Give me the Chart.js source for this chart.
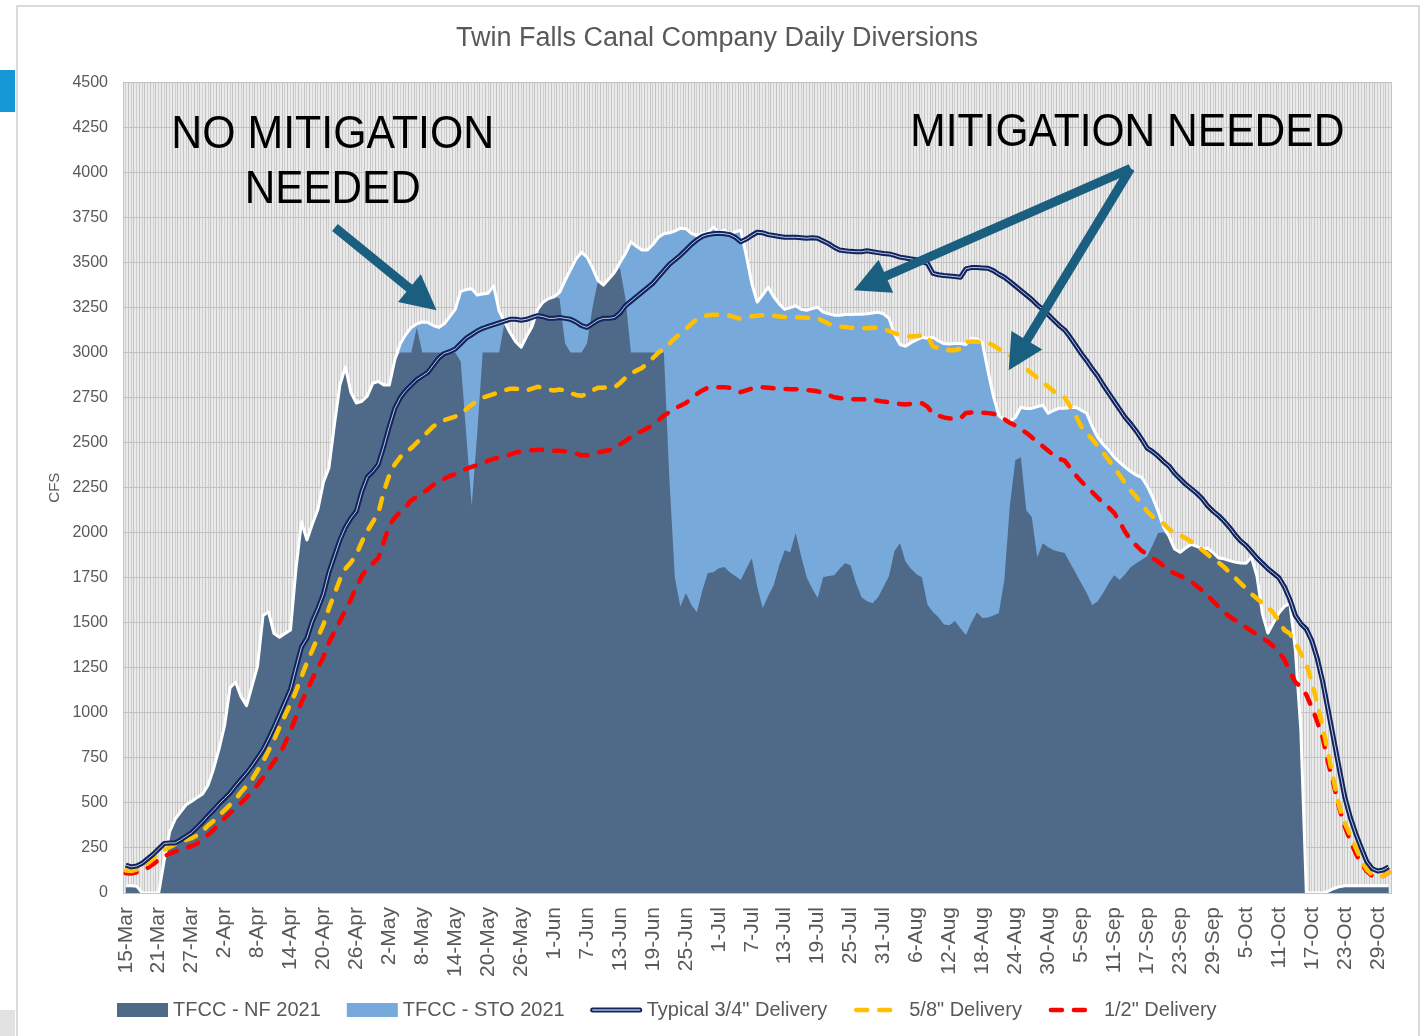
<!DOCTYPE html>
<html>
<head>
<meta charset="utf-8">
<script src="https://cdn.jsdelivr.net/npm/chart.js@4.4.1/dist/chart.umd.min.js"></script>
<style>
  html, body { margin: 0; padding: 0; background: #ffffff; }
  body { width: 1428px; height: 1036px; position: relative; overflow: hidden; }
  #frame { position: absolute; left: 16px; top: 5px; width: 1400px; height: 1040px; border: 2px solid #dadada; box-sizing: content-box; }
  #tab { position: absolute; left: 0; top: 70px; width: 15px; height: 42px; background: #1598d5; }
  #corner { position: absolute; left: 0; top: 1010px; width: 15px; height: 26px; background: #e2e2e2; }
  #c { position: absolute; left: 0; top: 0; }
</style>
</head>
<body>
<div id="frame"></div>
<div id="tab"></div>
<div id="corner"></div>
<canvas id="c" width="1428" height="1036"></canvas>
<script>
// ---------------- DATA ----------------
const chartTitle = 'Twin Falls Canal Company Daily Diversions';
const yAxisTitle = 'CFS';
const seriesNames = ['TFCC - NF 2021', 'TFCC - STO 2021', 'Typical 3/4" Delivery', '5/8" Delivery', '1/2" Delivery'];

// daily categories, 15-Mar .. 31-Oct
const monthSpans = [['Mar', 15, 31], ['Apr', 1, 30], ['May', 1, 31], ['Jun', 1, 30], ['Jul', 1, 31], ['Aug', 1, 31], ['Sep', 1, 30], ['Oct', 1, 31]];
const categories = [];
monthSpans.forEach(([m, a, b]) => { for (let d = a; d <= b; d++) categories.push(d + '-' + m); });
const tickEvery = 6; // a label is shown on every 6th day

// TFCC - NF 2021 (natural flow, dark area)
const nfFlow = [
  40, 40, 38, 0, 0, 0, 0, 180, 340, 410,
  450, 490, 510, 530, 550, 600, 690, 800, 930, 1140,
  1170, 1090, 1040, 1150, 1260, 1540, 1560, 1440, 1420, 1440,
  1460, 1800, 2060, 1960, 2050, 2130, 2280, 2360, 2600, 2820,
  2920, 2780, 2720, 2730, 2760, 2830, 2840, 2820, 2820, 2960,
  3000, 3000, 3000, 3140, 3000, 3000, 3000, 3000, 3000, 3000,
  3000, 2950, 2550, 2150, 2550, 3000, 3000, 3000, 3000, 3170,
  3110, 3060, 3030, 3090, 3145, 3240, 3280, 3300, 3310, 3300,
  3050, 3000, 3000, 3000, 3050, 3250, 3400, 3375, 3410, 3445,
  3470, 3300, 3000, 3000, 3000, 3000, 3000, 3000, 3000, 2300,
  1750, 1590, 1665, 1600, 1559, 1680, 1776, 1780, 1803, 1810,
  1780, 1760, 1737, 1800, 1859, 1700, 1581, 1650, 1709, 1820,
  1903, 1892, 1998, 1870, 1753, 1690, 1637, 1753, 1760, 1764,
  1800, 1831, 1820, 1720, 1642, 1620, 1609, 1642, 1700, 1760,
  1900, 1942, 1840, 1800, 1770, 1753, 1600, 1560, 1531, 1490,
  1487, 1510, 1470, 1432, 1500, 1559, 1526, 1530, 1540, 1554,
  1737, 2150, 2403, 2419, 2125, 2086, 1864, 1942, 1920, 1903,
  1895, 1887, 1830, 1776, 1720, 1665, 1598, 1620, 1665, 1720,
  1764, 1737, 1770, 1809, 1830, 1850, 1870, 1930, 1998, 2003,
  1980, 1910, 1892, 1915, 1935, 1925, 1910, 1914, 1890, 1860,
  1855, 1845, 1837, 1832, 1831, 1864, 1760, 1550, 1443, 1500,
  1554, 1590, 1609, 1350, 900, 0, 0, 0, 0, 10,
  25, 35, 40, 40, 40, 40, 40, 40, 40, 40,
  40
];

// TFCC - STO 2021 (total with storage, light area with white outline)
const stoTotal = [
  40, 40, 38, 0, 0, 0, 0, 180, 340, 410,
  450, 490, 510, 530, 550, 600, 690, 800, 930, 1140,
  1170, 1090, 1040, 1150, 1260, 1540, 1560, 1440, 1420, 1440,
  1460, 1800, 2060, 1960, 2050, 2130, 2280, 2360, 2600, 2820,
  2920, 2780, 2720, 2730, 2760, 2830, 2840, 2820, 2820, 2960,
  3050, 3100, 3140, 3160, 3170, 3168, 3150, 3140, 3160, 3200,
  3240, 3340, 3350, 3355, 3320, 3325, 3330, 3370, 3230, 3170,
  3110, 3060, 3030, 3090, 3145, 3240, 3280, 3300, 3310, 3335,
  3400, 3460, 3520, 3557, 3530, 3470, 3400, 3375, 3410, 3445,
  3500, 3550, 3615, 3590, 3570, 3570, 3600, 3640, 3660, 3665,
  3675, 3690, 3688, 3662, 3650, 3660, 3665, 3696, 3670, 3680,
  3657, 3670, 3679, 3540, 3385, 3280, 3320, 3363, 3310, 3270,
  3240, 3250, 3260, 3240, 3235, 3245, 3252, 3225, 3215, 3208,
  3207, 3212, 3212, 3213, 3213, 3215, 3220, 3224, 3215, 3190,
  3100, 3045, 3035, 3055, 3070, 3085, 3080, 3085, 3065, 3050,
  3048, 3052, 3050, 3045, 3080, 3075, 3055, 2900, 2760, 2650,
  2625, 2615, 2641, 2697, 2690, 2690, 2700, 2708, 2663, 2680,
  2691, 2691, 2695, 2697, 2680, 2663, 2590, 2530, 2490, 2458,
  2420, 2390, 2364, 2340, 2320, 2308, 2260, 2197, 2120, 2031,
  1980, 1910, 1892, 1915, 1935, 1925, 1910, 1914, 1890, 1860,
  1855, 1845, 1837, 1832, 1831, 1864, 1760, 1550, 1443, 1500,
  1554, 1590, 1609, 1350, 900, 0, 0, 0, 0, 10,
  25, 35, 40, 40, 40, 40, 40, 40, 40, 40,
  40
];

// Typical 3/4" Delivery
const typicalDelivery = [
  155, 145, 150, 165, 190, 215, 245, 275, 278, 278,
  295, 315, 335, 365, 395, 430, 460, 495, 525, 555,
  595, 630, 665, 705, 750, 795, 855, 920, 990, 1060,
  1130, 1250, 1365, 1415, 1510, 1580, 1660, 1780, 1870, 1960,
  2030, 2080, 2120, 2230, 2310, 2340, 2380, 2480, 2590, 2690,
  2750, 2790, 2820, 2850, 2870, 2890, 2930, 2970, 2995, 3005,
  3020, 3050, 3080, 3100, 3120, 3135, 3145, 3155, 3165, 3175,
  3185, 3185, 3180, 3185, 3195, 3205, 3200, 3190, 3190, 3195,
  3190, 3185, 3170, 3150, 3140, 3160, 3180, 3190, 3190, 3195,
  3220, 3260, 3285, 3310, 3335, 3360, 3385, 3420, 3455, 3490,
  3515, 3540, 3570, 3600, 3625, 3645, 3655, 3660, 3662, 3660,
  3655, 3640, 3615, 3630, 3650, 3668, 3665, 3655, 3650, 3645,
  3640, 3640, 3640, 3638, 3635, 3638, 3635, 3620, 3605, 3585,
  3570, 3565, 3562, 3560, 3560, 3565, 3560, 3555, 3550, 3548,
  3540, 3530, 3525, 3520, 3515, 3505, 3495, 3440, 3432, 3428,
  3425, 3422, 3418, 3465, 3472, 3472, 3470, 3468, 3455, 3435,
  3418, 3395, 3370, 3345, 3320, 3295, 3265, 3240, 3210, 3180,
  3150, 3125, 3085, 3040, 2995, 2955, 2910, 2870, 2820, 2775,
  2730, 2685, 2640, 2605, 2565, 2520, 2470, 2450, 2425, 2395,
  2370, 2330, 2300, 2270, 2245, 2220, 2190, 2150, 2120, 2095,
  2065, 2030, 1990, 1955, 1930, 1895, 1860, 1830, 1800, 1775,
  1750, 1700, 1630, 1540, 1495, 1465, 1400, 1300, 1170, 1010,
  850, 690, 533, 420, 330, 250, 175, 135, 122, 128,
  145
];

// 5/8" Delivery
const fiveEighthsDelivery = [
  125, 122, 130, 145, 165, 190, 220, 240, 255, 270,
  280, 295, 305, 320, 345, 375, 400, 430, 460, 490,
  520, 560, 595, 630, 680, 730, 790, 850, 920, 985,
  1050, 1120, 1200, 1280, 1350, 1420, 1490, 1580, 1660, 1740,
  1800, 1835, 1880, 1950, 2010, 2060, 2110, 2230, 2320, 2380,
  2420, 2445, 2470, 2500, 2530, 2560, 2590, 2610, 2625, 2635,
  2645, 2660, 2685, 2710, 2730, 2750, 2760, 2770, 2780, 2790,
  2800, 2800, 2795, 2790, 2800, 2810, 2805, 2795, 2790, 2795,
  2790, 2775, 2765, 2760, 2770, 2790, 2805, 2805, 2808, 2808,
  2830, 2860, 2885, 2900, 2915, 2940, 2970, 3000, 3020, 3050,
  3080, 3105, 3130, 3160, 3185, 3200, 3207, 3210, 3210, 3210,
  3205, 3195, 3188, 3195, 3202, 3205, 3207, 3207, 3205, 3200,
  3198, 3196, 3196, 3195, 3193, 3192, 3190, 3175, 3160, 3150,
  3145, 3142, 3138, 3136, 3135, 3135, 3138, 3138, 3130, 3120,
  3108, 3098, 3092, 3090, 3092, 3095, 3092, 3035, 3025, 3018,
  3013, 3013, 3022, 3060, 3062, 3060, 3058, 3055, 3040, 3020,
  3000, 2985, 2965, 2940, 2910, 2885, 2860, 2835, 2810, 2785,
  2765, 2750, 2700, 2650, 2590, 2550, 2520, 2480, 2445, 2405,
  2360, 2320, 2275, 2235, 2200, 2160, 2120, 2090, 2070, 2050,
  2020, 2000, 1985, 1970, 1950, 1930, 1905, 1880, 1855, 1835,
  1810, 1780, 1750, 1720, 1690, 1660, 1635, 1610, 1585, 1555,
  1510, 1460, 1440, 1390, 1330, 1270, 1170, 1050, 920, 770,
  620, 480, 390, 320, 250, 180, 130, 100, 90, 95,
  115
];

// 1/2" Delivery
const halfDelivery = [
  110, 108, 115, 125, 140, 160, 185, 205, 218, 230,
  242, 250, 260, 275, 300, 325, 350, 385, 415, 445,
  470, 500, 530, 565, 600, 640, 685, 730, 770, 830,
  900, 980, 1060, 1120, 1190, 1250, 1310, 1390, 1450, 1510,
  1570, 1630, 1700, 1760, 1800, 1830, 1860, 1950, 2040, 2085,
  2115, 2145, 2180, 2200, 2220, 2240, 2265, 2285, 2300, 2315,
  2325, 2340, 2355, 2365, 2375, 2385, 2400, 2410, 2418, 2425,
  2435, 2445, 2450, 2455, 2458, 2460, 2460, 2458, 2455, 2455,
  2453, 2450, 2440, 2430, 2430, 2435, 2445, 2452, 2458, 2470,
  2490, 2510, 2530, 2550, 2565, 2580, 2600, 2625, 2650, 2670,
  2690, 2705, 2720, 2745, 2770, 2790, 2805, 2808, 2808, 2808,
  2805, 2790, 2780, 2790, 2800, 2805, 2808, 2805, 2802, 2800,
  2798, 2797, 2797, 2795, 2792, 2790, 2785, 2775, 2765, 2752,
  2748, 2745, 2742, 2741, 2741, 2740, 2738, 2733, 2728, 2725,
  2720, 2715, 2712, 2715, 2718, 2719, 2700, 2660, 2650, 2640,
  2635, 2632, 2635, 2665, 2668, 2669, 2667, 2664, 2660, 2650,
  2630, 2610, 2595, 2575, 2555, 2530, 2500, 2480, 2455, 2430,
  2410, 2400, 2360, 2320, 2285, 2255, 2225, 2195, 2165, 2140,
  2110, 2060, 2005, 1960, 1930, 1900, 1880, 1860, 1840, 1815,
  1790, 1775, 1760, 1748, 1730, 1705, 1680, 1650, 1620, 1590,
  1560, 1535, 1515, 1495, 1475, 1455, 1435, 1415, 1395, 1370,
  1335, 1295, 1230, 1170, 1145, 1100, 1030, 950, 860, 720,
  600, 470, 370, 290, 220, 165, 120, 95, 88, 95,
  115
];

// y-axis range
const yMin = 0, yMax = 4500, yStep = 250;

// annotation texts (anchored in data coordinates: category index, value)
const noteTexts = [
  { text: 'NO MITIGATION', x: 37.7, y: 4134, w: 323 },
  { text: 'NEEDED', x: 37.7, y: 3830, w: 176 },
  { text: 'MITIGATION NEEDED', x: 182.4, y: 4145, w: 434 }
];
const noteArrows = [
  { from: [38.1, 3695], to: [56.6, 3235] },
  { from: [183.0, 4023], to: [132.6, 3346] },
  { from: [183.0, 4023], to: [160.8, 2902] }
];

// ---------------- STYLE ----------------
const FONT = "'Liberation Sans', Arial, Helvetica, sans-serif";
const TEXT_GREY = '#595959';
const C_NF = '#4f6a89';
const C_STO = '#78a9db';
const C_NAVY = '#0f2460';
const C_YEL = '#FFC000';
const C_RED = '#FF0000';
const C_ARROW = '#1a5e80';
const DASH = [11, 12];

const plotBg = {
  id: 'plotBg',
  beforeDraw(chart) {
    const { ctx, chartArea: a } = chart;
    ctx.save();
    ctx.fillStyle = '#eaeaea';
    ctx.fillRect(a.left, a.top, a.right - a.left, a.bottom - a.top);
    ctx.restore();
  }
};

function drawArrow(ctx, x1, y1, x2, y2) {
  const ang = Math.atan2(y2 - y1, x2 - x1);
  const headLen = 35, headHalf = 18, shaft = 9;
  const bx = x2 - headLen * Math.cos(ang), by = y2 - headLen * Math.sin(ang);
  ctx.save();
  ctx.strokeStyle = C_ARROW;
  ctx.fillStyle = C_ARROW;
  ctx.lineWidth = shaft;
  ctx.lineCap = 'butt';
  ctx.beginPath();
  ctx.moveTo(x1, y1);
  ctx.lineTo(bx + 2 * Math.cos(ang), by + 2 * Math.sin(ang));
  ctx.stroke();
  ctx.beginPath();
  ctx.moveTo(x2, y2);
  ctx.lineTo(bx + headHalf * Math.sin(ang), by - headHalf * Math.cos(ang));
  ctx.lineTo(bx - headHalf * Math.sin(ang), by + headHalf * Math.cos(ang));
  ctx.closePath();
  ctx.fill();
  ctx.restore();
}

const notes = {
  id: 'notes',
  afterDatasetsDraw(chart) {
    const { ctx } = chart;
    const xs = chart.scales.x, ys = chart.scales.y;
    noteArrows.forEach(a => {
      drawArrow(ctx, xs.getPixelForValue(a.from[0]), ys.getPixelForValue(a.from[1]),
                xs.getPixelForValue(a.to[0]), ys.getPixelForValue(a.to[1]));
    });
    ctx.save();
    ctx.fillStyle = '#000000';
    ctx.font = '46px ' + FONT;
    ctx.textAlign = 'center';
    ctx.textBaseline = 'alphabetic';
    noteTexts.forEach(n => {
      const w = ctx.measureText(n.text).width;
      const sx = n.w / w;
      ctx.save();
      ctx.translate(xs.getPixelForValue(n.x), ys.getPixelForValue(n.y));
      ctx.scale(sx, 1);
      ctx.fillText(n.text, 0, 0);
      ctx.restore();
    });
    ctx.restore();
  }
};

// legend entries: dataset index + symbol kind
const legendEntries = [
  { ds: 0, kind: 'box' },
  { ds: 1, kind: 'box' },
  { ds: 3, kind: 'double' },
  { ds: 5, kind: 'dash' },
  { ds: 6, kind: 'dash' }
];
const customLegend = {
  id: 'customLegend',
  afterDraw(chart) {
    const { ctx } = chart;
    const dsets = chart.data.datasets;
    ctx.save();
    ctx.font = '20px ' + FONT;
    ctx.textBaseline = 'middle';
    ctx.textAlign = 'left';
    let x = chart.chartArea.left - 6;
    const yc = chart.height - 26;
    const symW = 51, gap = 5, spacing = 26;
    legendEntries.forEach(e => {
      const d = dsets[e.ds];
      if (e.kind === 'box') {
        ctx.fillStyle = d.backgroundColor;
        ctx.fillRect(x, yc - 7, symW, 14);
      } else if (e.kind === 'double') {
        ctx.lineCap = 'round';
        ctx.strokeStyle = d.borderColor; ctx.lineWidth = 5;
        ctx.beginPath(); ctx.moveTo(x + 2, yc); ctx.lineTo(x + symW - 2, yc); ctx.stroke();
        ctx.strokeStyle = '#ffffff'; ctx.lineWidth = 1.2;
        ctx.beginPath(); ctx.moveTo(x + 2, yc); ctx.lineTo(x + symW - 2, yc); ctx.stroke();
      } else {
        ctx.lineCap = 'round';
        ctx.setLineDash(d.borderDash);
        ctx.strokeStyle = d.borderColor; ctx.lineWidth = d.borderWidth;
        ctx.beginPath(); ctx.moveTo(x + 3, yc); ctx.lineTo(x + symW - 3, yc); ctx.stroke();
        ctx.setLineDash([]);
      }
      ctx.fillStyle = TEXT_GREY;
      ctx.fillText(d.label, x + symW + gap, yc);
      x += symW + gap + ctx.measureText(d.label).width + spacing;
    });
    ctx.restore();
  }
};

const lineBase = { pointRadius: 0, pointHoverRadius: 0, tension: 0, borderJoinStyle: 'round' };

new Chart(document.getElementById('c'), {
  type: 'line',
  data: {
    labels: categories,
    datasets: [
      Object.assign({}, lineBase, { label: seriesNames[0], data: nfFlow, order: 5, fill: 'origin',
        backgroundColor: C_NF, borderColor: 'rgba(0,0,0,0)', borderWidth: 0.01 }),
      Object.assign({}, lineBase, { label: seriesNames[1], data: stoTotal, order: 6, fill: 'origin',
        backgroundColor: C_STO, borderColor: 'rgba(0,0,0,0)', borderWidth: 0.01 }),
      Object.assign({}, lineBase, { label: seriesNames[1] + ' outline', data: stoTotal, order: 4, fill: false,
        borderColor: '#ffffff', borderWidth: 3 }),
      Object.assign({}, lineBase, { label: seriesNames[2], data: typicalDelivery, order: 1, fill: false,
        borderColor: C_NAVY, borderWidth: 5 }),
      Object.assign({}, lineBase, { label: seriesNames[2] + ' inner', data: typicalDelivery, order: 0, fill: false,
        borderColor: 'rgba(255,255,255,0.75)', borderWidth: 1 }),
      Object.assign({}, lineBase, { label: seriesNames[3], data: fiveEighthsDelivery, order: 2, fill: false,
        borderColor: C_YEL, borderWidth: 4.5, borderDash: DASH, borderCapStyle: 'round' }),
      Object.assign({}, lineBase, { label: seriesNames[4], data: halfDelivery, order: 3, fill: false,
        borderColor: C_RED, borderWidth: 4.5, borderDash: DASH, borderCapStyle: 'round' })
    ]
  },
  options: {
    responsive: false,
    animation: false,
    devicePixelRatio: 1,
    events: [],
    layout: { padding: { left: 40, right: 34, top: 0, bottom: 46 } },
    plugins: {
      legend: { display: false },
      tooltip: { enabled: false },
      title: {
        display: true, text: chartTitle, color: TEXT_GREY,
        font: { family: FONT, size: 27, weight: 'normal', lineHeight: 1.2 },
        padding: { top: 22, bottom: 28 }
      }
    },
    scales: {
      x: {
        type: 'category',
        offset: true,
        afterFit(s) { s.height = 97; },
        border: { display: true, color: '#c4c4c4', width: 1 },
        grid: { display: true, color: '#c4c4c4', lineWidth: 1, drawTicks: false, offset: true },
        ticks: {
          autoSkip: false, minRotation: 90, maxRotation: 90, padding: 14,
          color: TEXT_GREY, font: { family: FONT, size: 21 },
          callback: (v, i) => (i % tickEvery === 0 ? categories[i] : '')
        }
      },
      x2: {
        type: 'category',
        offset: true,
        position: 'bottom',
        afterFit(s) { s.height = 0; },
        border: { display: false },
        grid: { display: true, color: '#d0d0d0', lineWidth: 1, drawTicks: false, offset: false },
        ticks: { display: false }
      },
      y: {
        min: yMin, max: yMax,
        afterFit(s) { s.width = 83; },
        border: { display: false },
        grid: { color: '#c2c2c2', lineWidth: 1, drawTicks: false },
        ticks: { stepSize: yStep, padding: 15, color: TEXT_GREY, font: { family: FONT, size: 16 },
          callback: (v) => String(v) },
        title: { display: true, text: yAxisTitle, color: TEXT_GREY, font: { family: FONT, size: 15 }, padding: { top: 6, bottom: 0 } }
      }
    }
  },
  plugins: [plotBg, notes, customLegend]
});
</script>
</body>
</html>
